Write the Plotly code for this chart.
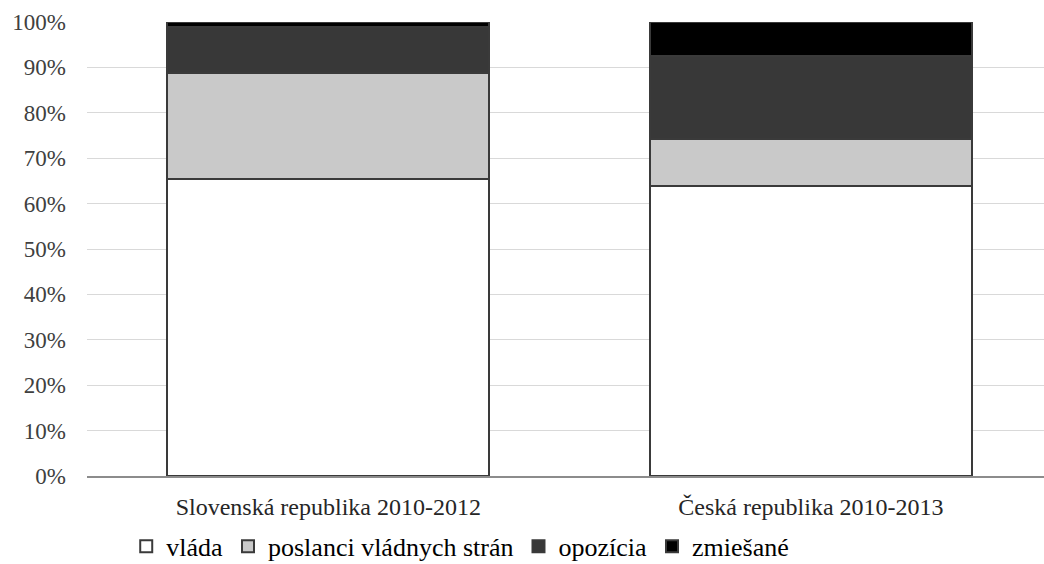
import plotly.graph_objects as go

categories = ["Slovenská republika 2010-2012", "Česká republika 2010-2013"]
series_names = ["vláda", "poslanci vládnych strán", "opozícia", "zmiešané"]
vlada = [0.655, 0.639]
poslanci = [0.233, 0.103]
opozicia = [0.102, 0.183]
zmiesane = [0.010, 0.075]
colors = ["#ffffff", "#c9c9c9", "#383838", "#000000"]
y_ticks = [0, 0.1, 0.2, 0.3, 0.4, 0.5, 0.6, 0.7, 0.8, 0.9, 1.0]
y_tick_labels = ["0%", "10%", "20%", "30%", "40%", "50%", "60%", "70%", "80%", "90%", "100%"]

font_family = "'Liberation Serif', 'Times New Roman', serif"
fig = go.Figure()
for name, vals, col in zip(series_names, [vlada, poslanci, opozicia, zmiesane], colors):
    fig.add_trace(go.Bar(
        x=[0, 1], y=vals, name=name,
        marker=dict(color=col, line=dict(color="#3a3a3a", width=2)),
        width=0.667,
    ))

fig.update_layout(
    barmode="stack",
    width=1044, height=564,
    margin=dict(l=87, r=0, t=22, b=88, autoexpand=False),
    paper_bgcolor="white", plot_bgcolor="white",
    font=dict(family=font_family, size=23, color="#404040"),
    showlegend=True,
    legend=dict(orientation="h", x=0.39, xanchor="center", y=-0.155, yanchor="middle",
                font=dict(family=font_family, size=26, color="#000000"),
                traceorder="normal", tracegroupgap=0,
                bgcolor="rgba(0,0,0,0)",
                itemsizing="constant"),
    xaxis=dict(
        tickmode="array", tickvals=[0, 1], ticktext=categories,
        range=[-0.5, 1.483], showgrid=False, zeroline=False,
        showline=True, linecolor="#8c8c8c", linewidth=1.5,
        ticks="", ticklabelstandoff=8,
        tickfont=dict(family=font_family, size=24, color="#262626"),
    ),
    yaxis=dict(
        range=[0, 1.0], tickmode="array", tickvals=y_ticks, ticktext=y_tick_labels,
        showgrid=True, gridcolor="#d9d9d9", gridwidth=1, zeroline=False,
        showline=False, ticks="", ticklabelstandoff=20,
        tickfont=dict(family=font_family, size=23, color="#404040"),
    ),
)

fig.write_html("out.html")
